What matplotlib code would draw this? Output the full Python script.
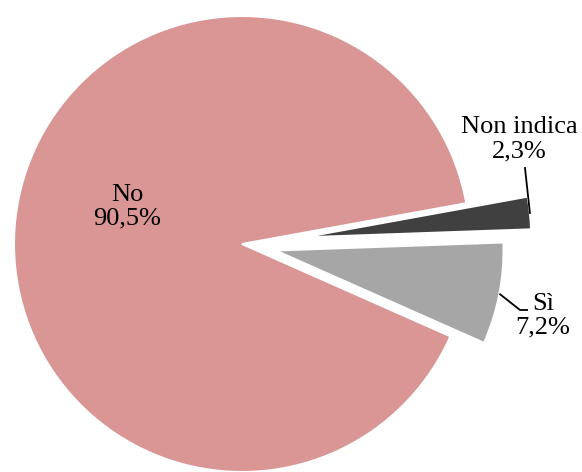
import numpy as np
import matplotlib
matplotlib.use("Agg")
import matplotlib.pyplot as plt

# Data
labels = ["No", "Sì", "Non indica"]
values = [90.5, 7.2, 2.3]
value_labels = ["90,5%", "7,2%", "2,3%"]
colors = ["#D99694", "#A6A6A6", "#404040"]
explode = [0, 0.15, 0.27]

plt.rcParams['font.family'] = ['Liberation Serif', 'DejaVu Serif']

fig = plt.figure(figsize=(5.82, 4.72), dpi=100)
ax = fig.add_axes([0, 0, 1, 1])

wedges, _ = ax.pie(values, colors=colors, explode=explode, startangle=10.3,
                   counterclock=True, radius=1,
                   wedgeprops=dict(edgecolor="white", linewidth=1.5))

# pixel scale: radius ~228 px, centre at (242, 244)
R, cx, cy = 228, 242, 244
ax.set_xlim(-cx / R, (582 - cx) / R)
ax.set_ylim(-(472 - cy) / R, cy / R)
ax.set_aspect("equal")
ax.axis("off")


def arc_mid(w):
    ang = np.deg2rad((w.theta1 + w.theta2) / 2)
    wx, wy = w.center
    return wx + w.r * np.cos(ang), wy + w.r * np.sin(ang)


def px(x, y):
    # pixel position -> data units
    return (x - cx) / R, (cy - y) / R


fs = 19
# No label inside the slice
tx, ty = px(127, 207)
ax.text(tx, ty, f"{labels[0]}\n{value_labels[0]}", ha="center", va="center",
        fontsize=fs, linespacing=1.1)

# Sì label with leader line
x0, y0 = arc_mid(wedges[1])
ex, ey = px(520, 310)
fx, _ = px(528, 310)
ax.plot([x0, ex, fx], [y0, ey, ey], color="black", lw=1.3,
        solid_capstyle="butt")
tx, ty = px(543, 316)
ax.text(tx, ty, f"{labels[1]}\n{value_labels[1]}", ha="center", va="center",
        fontsize=fs, linespacing=1.1)

# Non indica label with leader line
x0, y0 = arc_mid(wedges[2])
ex, ey = px(525, 168)
ax.plot([x0, ex], [y0, ey], color="black", lw=1.3)
tx, ty = px(519, 139)
ax.text(tx, ty, f"{labels[2]}\n{value_labels[2]}", ha="center", va="center",
        fontsize=fs, linespacing=1.15)

fig.savefig("out.png", dpi=100)
